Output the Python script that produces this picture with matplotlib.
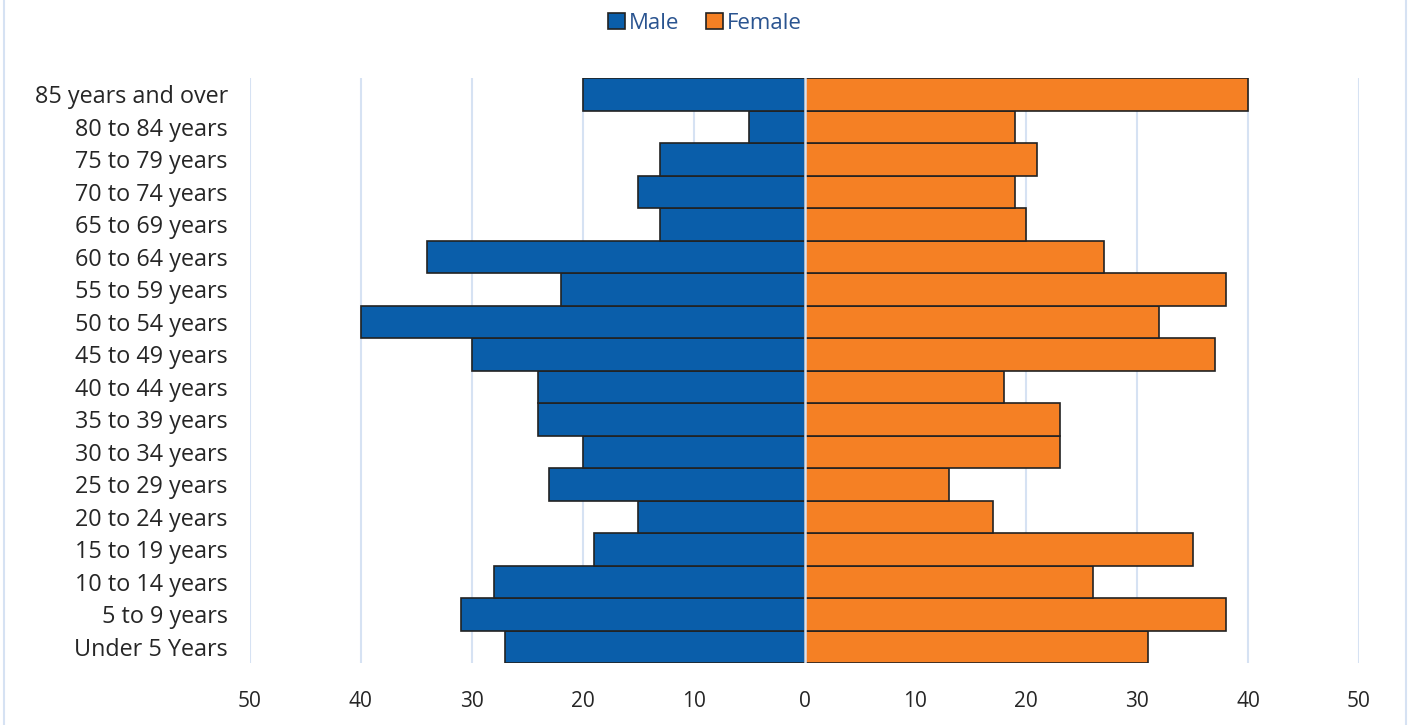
import matplotlib.pyplot as plt
from matplotlib.patches import Rectangle
from matplotlib.ticker import FuncFormatter

age_groups = ['Under 5 Years', '5 to 9 years', '10 to 14 years', '15 to 19 years',
              '20 to 24 years', '25 to 29 years', '30 to 34 years', '35 to 39 years',
              '40 to 44 years', '45 to 49 years', '50 to 54 years', '55 to 59 years',
              '60 to 64 years', '65 to 69 years', '70 to 74 years', '75 to 79 years',
              '80 to 84 years', '85 years and over']
male = [27, 31, 28, 19, 15, 23, 20, 24, 24, 30, 40, 22, 34, 13, 15, 13, 5, 20]
female = [31, 38, 26, 35, 17, 13, 23, 23, 18, 37, 32, 38, 27, 20, 19, 21, 19, 40]
x_ticks = [-50, -40, -30, -20, -10, 0, 10, 20, 30, 40, 50]

male_color = '#0A5EAA'
female_color = '#F58024'
grid_color = '#D6E2F3'
edge_color = '#222222'

fig = plt.figure(figsize=(14.1, 7.25), dpi=100)
ax = fig.add_axes([250 / 1410, 62 / 725, 1109 / 1410, 585 / 725])

ys = list(range(len(age_groups)))
ax.barh(ys, [-m for m in male], height=1.0, color=male_color, edgecolor=edge_color,
        linewidth=1.2, label='Male', zorder=2)
ax.barh(ys, female, height=1.0, color=female_color, edgecolor=edge_color,
        linewidth=1.2, label='Female', zorder=2)
ax.axvline(0, color=grid_color, linewidth=1.8, zorder=3)

ax.set_xlim(-50, 50)
ax.set_ylim(-0.5, len(age_groups) - 0.5)
ax.set_xticks(x_ticks)
ax.xaxis.set_major_formatter(FuncFormatter(lambda v, _: '%d' % abs(v)))
ax.set_yticks(ys)
ax.set_yticklabels(age_groups, fontfamily='Open Sans', fontsize=16.8, color='#262626')
ax.grid(axis='x', color=grid_color, linewidth=1.5, zorder=0)
ax.set_axisbelow(True)
for spine in ax.spines.values():
    spine.set_visible(False)
ax.tick_params(axis='both', length=0)
ax.tick_params(axis='x', pad=20, labelsize=15, labelcolor='#262626')
ax.tick_params(axis='y', pad=16)
for lbl in ax.get_xticklabels():
    lbl.set_fontfamily('Open Sans')

leg = fig.legend(loc='upper center', bbox_to_anchor=(0.5, 1.01), ncol=2, frameon=False,
                 prop={'family': 'Open Sans', 'size': 16}, handlelength=0.75, handleheight=0.75,
                 handletextpad=0.2, columnspacing=1.2)
for txt in leg.get_texts():
    txt.set_color('#2A5490')

# thin outer frame around the chart area
fig.patches.append(Rectangle((4 / 1410, -0.01), 1402 / 1410, 1.02, transform=fig.transFigure,
                             fill=False, edgecolor=grid_color, linewidth=1.5))

fig.savefig('out.png', dpi=100)
